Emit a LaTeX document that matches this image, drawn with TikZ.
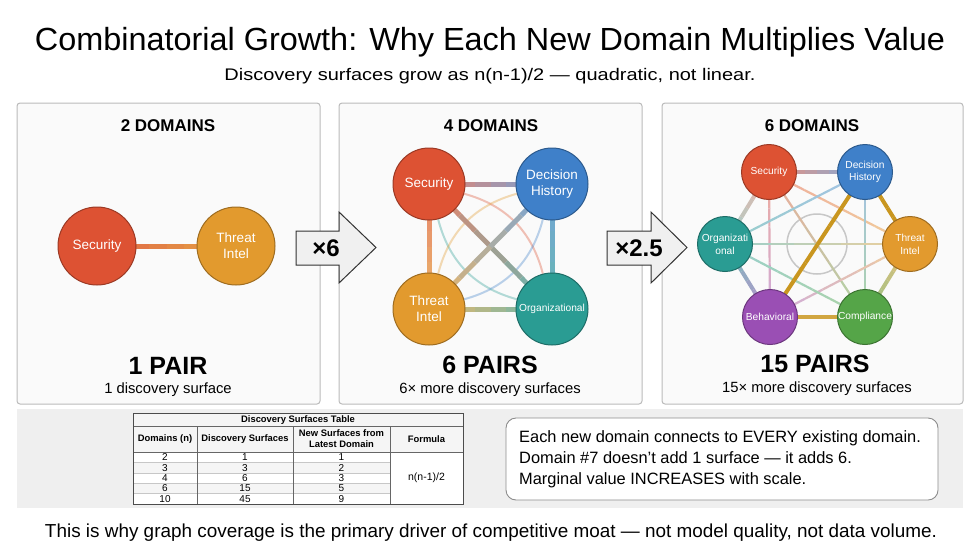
\documentclass[tikz,border=0pt]{standalone}
\usepackage{fontspec}
\setmainfont{Liberation Sans}
\usetikzlibrary{calc}
\pgfdeclarelayer{back}
\pgfdeclarelayer{edges}
\pgfsetlayers{back,edges,main}
\definecolor{csec}{HTML}{DD5233}
\definecolor{cthr}{HTML}{E29A2E}
\definecolor{cdec}{HTML}{3F80C9}
\definecolor{corg}{HTML}{2A9C93}
\definecolor{ccom}{HTML}{55A548}
\definecolor{cbeh}{HTML}{9A4FB4}
\definecolor{cgold}{HTML}{C9961F}
\definecolor{panelbg}{HTML}{FAFAFA}
\definecolor{panelln}{HTML}{BBBBBB}
\definecolor{bandbg}{HTML}{EFEFEF}
% gradient edge: #1 from, #2 to, #3 colour A, #4 colour B, #5 style, #6 tint
\newcommand\gedge[6]{%
  \foreach \k in {0,...,7}{%
    \pgfmathsetmacro\ta{\k/8}%
    \pgfmathsetmacro\tb{(\k+1)/8}%
    \pgfmathtruncatemacro\pc{100-(\k*100+50)/8}%
    \draw[line cap=butt,#5,draw=#3!\pc!#4!#6!white] ($(#1)!\ta!(#2)$) -- ($(#1)!\tb!(#2)$);
  }}
\begin{document}
\begin{tikzpicture}[x=1pt,y=-1pt,
  panel/.style={fill=panelbg,draw=panelln,line width=1pt,rounded corners=3pt},
  dom/.style={circle,fill=#1,draw=#1!70!black,line width=1pt,text=white,align=center,inner sep=0pt},
  bigc/.style={minimum size=78pt,font=\fontsize{13.5}{15.7}\selectfont},
  midc/.style={minimum size=72pt,font=\fontsize{13.5}{15.7}\selectfont},
  smallc/.style={minimum size=55pt,font=\fontsize{10.2}{12.7}\selectfont},
  phead/.style={anchor=base,font=\fontsize{17}{20}\selectfont\bfseries},
  ppair/.style={anchor=base,font=\fontsize{25}{28}\selectfont\bfseries},
  psub/.style={anchor=base,font=\fontsize{14.8}{17}\selectfont},
  mularrow/.style={fill=black!6,draw=black!80,line width=1pt,line join=miter},
  mullabel/.style={font=\fontsize{24}{26}\selectfont\bfseries},
  tbl/.style={font=\fontsize{10}{10.5}\selectfont,inner sep=0pt,align=center},
  tblb/.style={tbl,font=\fontsize{9.4}{11}\selectfont\bfseries},
  faint/.style={line width=2pt,draw opacity=0.35}
]
\useasboundingbox (0,0) rectangle (980,547);
\begin{pgfonlayer}{back}
  \fill[white] (0,0) rectangle (980,547);
  \draw[panel] (17,103) rectangle (320,404);
  \draw[panel] (339,103) rectangle (642,404);
  \draw[panel] (662,103) rectangle (963,404);
  \fill[bandbg] (17,409) rectangle (963,508);
\end{pgfonlayer}

% titles
\node[anchor=base] (title) at (490,50) {\resizebox{910pt}{\height}{\fontsize{32}{36}\selectfont Combinatorial Growth: Why Each New Domain Multiplies Value}};
\node[anchor=base] (subtitle) at (490,80) {\resizebox{531pt}{\height}{\fontsize{16.8}{19}\selectfont Discovery surfaces grow as n(n-1)/2 — quadratic, not linear.}};
\node[anchor=base] (footer) at (491,537) {\resizebox{892pt}{\height}{\fontsize{18.8}{21}\selectfont This is why graph coverage is the primary driver of competitive moat — not model quality, not data volume.}};

% panel 1
\node[phead] (h1) at (168,131) {2 DOMAINS};
\node[dom=csec,bigc] (p1s) at (97,246) {Security};
\node[dom=cthr,bigc] (p1t) at (236,246) {Threat\\Intel};
\node[ppair] (n1) at (168,374) {1 PAIR};
\node[psub] (s1) at (168,393) {1 discovery surface};
\begin{pgfonlayer}{edges}
  \gedge{p1s}{p1t}{csec}{cthr}{line width=5pt}{90}
\end{pgfonlayer}

% panel 2
\node[phead] (h2) at (491,131) {4 DOMAINS};
\node[dom=csec,midc] (p2s) at (429,184) {Security};
\node[dom=cdec,midc] (p2d) at (552,184) {Decision\\History};
\node[dom=cthr,midc] (p2t) at (429,309) {Threat\\Intel};
\node[dom=corg,midc,font=\fontsize{10.2}{12}\selectfont] (p2o) at (552,309) {Organizational};
\node[ppair] (n2) at (490,373) {6 PAIRS};
\node[psub] (s2) at (490,393) {6× more discovery surfaces};
\begin{pgfonlayer}{edges}
  \draw[faint,draw=csec] (p2s) to[bend left=30] (p2o);
  \draw[faint,draw=corg] (p2s) to[bend right=30] (p2o);
  \draw[faint,draw=cthr] (p2t) to[bend left=30] (p2d);
  \draw[faint,draw=cdec] (p2t) to[bend right=30] (p2d);
  \gedge{p2s}{p2d}{csec}{cdec}{line width=5pt}{72}
  \gedge{p2s}{p2t}{csec}{cthr}{line width=5pt}{72}
  \gedge{p2d}{p2o}{cdec}{corg}{line width=5pt}{72}
  \gedge{p2t}{p2o}{cthr}{corg}{line width=5pt}{72}
  \gedge{p2s}{p2o}{csec}{corg}{line width=5pt}{72}
  \gedge{p2t}{p2d}{cthr}{cdec}{line width=5pt}{72}
\end{pgfonlayer}

% panel 3
\node[phead] (h3) at (812,131) {6 DOMAINS};
\node[dom=csec,smallc] (p3s) at (769,172) {Security};
\node[dom=cdec,smallc] (p3d) at (865,172) {Decision\\History};
\node[dom=cthr,smallc] (p3h) at (910,244) {Threat\\Intel};
\node[dom=ccom,smallc] (p3c) at (865,317) {Compliance};
\node[dom=cbeh,smallc] (p3b) at (770,317) {Behavioral};
\node[dom=corg,smallc] (p3o) at (725,244) {Organizati\\onal};
\node[ppair] (n3) at (815,372) {15 PAIRS};
\node[psub] (s3) at (817,392) {15× more discovery surfaces};
\begin{pgfonlayer}{edges}
  \node[circle,draw=black!22,line width=1.5pt,minimum size=60pt,inner sep=0pt] (ring) at (817,244) {};
  \gedge{p3s}{p3h}{csec}{cthr}{line width=2.2pt}{48}
  \gedge{p3s}{p3c}{csec}{ccom}{line width=2.2pt}{48}
  \gedge{p3s}{p3b}{csec}{cbeh}{line width=2.2pt}{48}
  \gedge{p3d}{p3c}{cdec}{ccom}{line width=2.2pt}{48}
  \gedge{p3d}{p3o}{cdec}{corg}{line width=2.2pt}{48}
  \gedge{p3h}{p3b}{cthr}{cbeh}{line width=2.2pt}{48}
  \gedge{p3h}{p3o}{cthr}{corg}{line width=2.2pt}{48}
  \gedge{p3c}{p3o}{ccom}{corg}{line width=2.2pt}{48}
  \gedge{p3s}{p3d}{csec}{cdec}{line width=4pt}{65}
  \gedge{p3d}{p3h}{cgold}{cgold}{line width=4pt}{100}
  \gedge{p3h}{p3c}{cthr}{ccom}{line width=4pt}{65}
  \gedge{p3c}{p3b}{cgold}{cgold}{line width=4pt}{85}
  \gedge{p3b}{p3o}{cbeh}{corg}{line width=4pt}{65}
  \gedge{p3o}{p3s}{corg}{csec}{line width=4pt}{45}
  \gedge{p3b}{p3d}{cgold}{cgold}{line width=4pt}{100}
\end{pgfonlayer}

% multiplier arrows
\draw[mularrow] (296,231) -- (339,231) -- (339,212) -- (376,247.5) -- (339,283) -- (339,265) -- (296,265) -- cycle;
\node[mullabel] (m1) at (326,248) {×6};
\draw[mularrow] (607,231) -- (651,231) -- (651,212) -- (687,247.5) -- (651,283) -- (651,265) -- (607,265) -- cycle;
\node[mullabel] (m2) at (639,248) {×2.5};

% table
\fill[black!4] (133,413) rectangle (463,452);
\fill[white] (133,452) rectangle (463,504);
\foreach \r in {1,3}{\fill[black!4] (133,{452+10.4*\r}) rectangle (390,{452+10.4*(\r+1)});}
\foreach \r in {1,...,4}{\draw[black!22,line width=0.6pt] (133,{452+10.4*\r}) -- (390,{452+10.4*\r});}
\draw[black!60,line width=0.8pt] (133,426) -- (463,426);
\draw[black!60,line width=0.8pt] (133,452) -- (463,452);
\foreach \x in {197,293,390}{\draw[black!60,line width=0.8pt] (\x,426) -- (\x,504);}
\draw[black!70,line width=1pt] (133,413) rectangle (463,504);
\node[tblb] (ttitle) at (298,420) {Discovery Surfaces Table};
\node[tblb] (th1) at (165,439) {Domains (n)};
\node[tblb] (th2) at (245,439) {Discovery Surfaces};
\node[tblb] (th3) at (341.5,439) {New Surfaces from\\Latest Domain};
\node[tblb] (th4) at (426.5,439) {Formula};
\foreach \n/\s/\w [count=\i from 0] in {2/1/1,3/3/2,4/6/3,6/15/5,10/45/9}{
  \node[tbl] (ta\i) at (165,{452+10.4*(\i+0.5)}) {\n};
  \node[tbl] (tb\i) at (245,{452+10.4*(\i+0.5)}) {\s};
  \node[tbl] (tc\i) at (341.5,{452+10.4*(\i+0.5)}) {\w};
}
\node[tbl,font=\fontsize{10.5}{12}\selectfont] (tf) at (426.5,478) {n(n-1)/2};

% note box
\node[draw=black!45,line width=0.9pt,fill=white,rounded corners=10pt,minimum width=432pt,minimum height=82pt] (note) at (722,459) {};
\node[anchor=west,align=left,inner sep=0pt,font=\fontsize{16.4}{21}\selectfont] (notetext) at (519,459) {Each new domain connects to EVERY existing domain.\\Domain \#7 doesn’t add 1 surface — it adds 6.\\Marginal value INCREASES with scale.};
\end{tikzpicture}
\end{document}
